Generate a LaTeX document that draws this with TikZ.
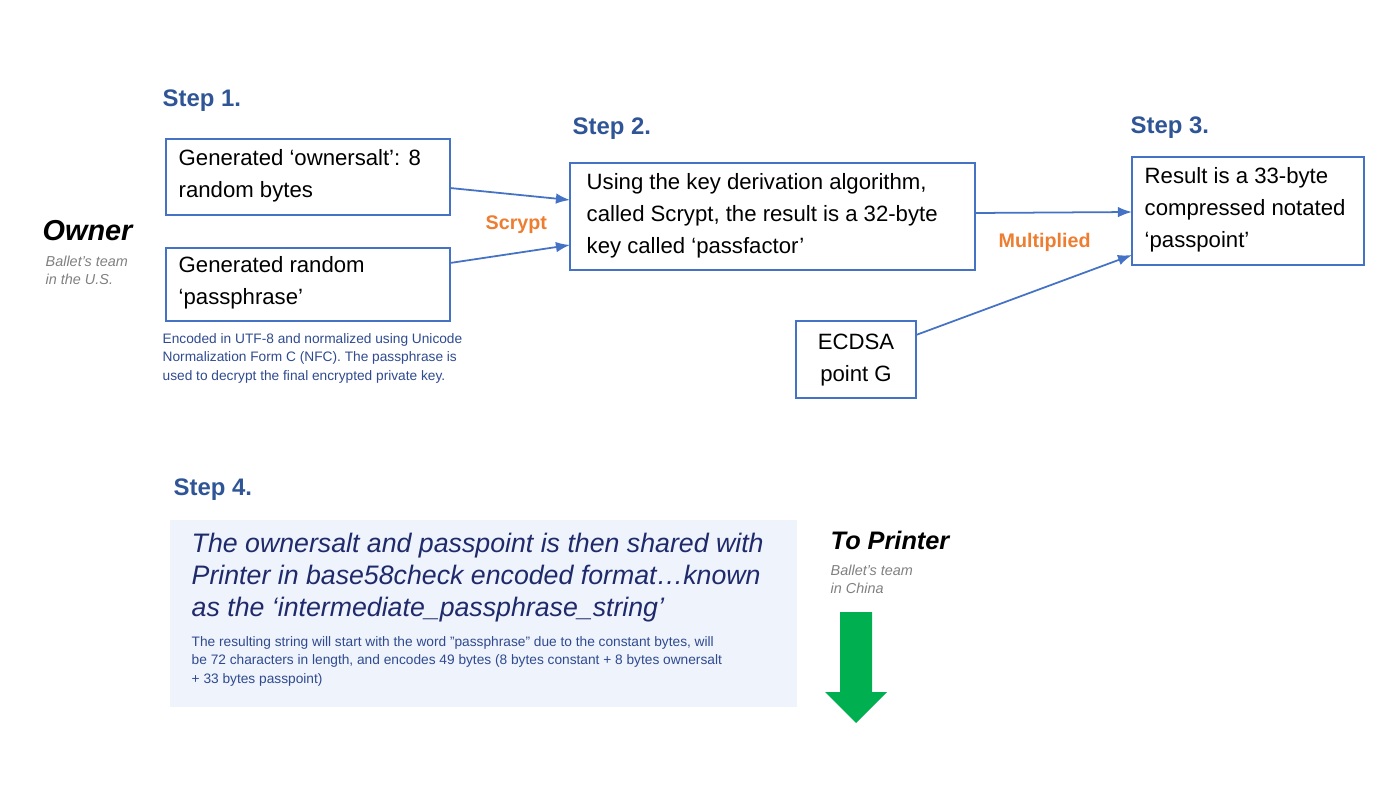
\documentclass[tikz,border=0pt]{standalone}
\usepackage{fontspec}
\setmainfont{Liberation Sans}
\usetikzlibrary{arrows.meta}
\definecolor{stepblue}{HTML}{2F5597}
\definecolor{boxblue}{HTML}{4472C4}
\definecolor{orng}{HTML}{ED7D31}
\definecolor{navy}{HTML}{1F2A6B}
\definecolor{smallblue}{HTML}{2F4A8F}
\definecolor{grn}{HTML}{00B050}
\definecolor{panel}{HTML}{EEF3FC}
\begin{document}
\begin{tikzpicture}[x=0.01cm,y=-0.01cm,
  steplbl/.style={anchor=west,inner sep=0,text=stepblue,font=\fontsize{6.8}{8}\selectfont\bfseries},
  box/.style={draw=boxblue,line width=0.5pt,inner sep=0},
  btxt/.style={anchor=north west,inner sep=0,align=left,font=\fontsize{6.3}{9.1}\selectfont},
  lbl/.style={anchor=west,inner sep=0,text=orng,font=\fontsize{5.6}{7}\selectfont\bfseries},
  who/.style={anchor=west,inner sep=0,font=\fontsize{8.2}{9}\selectfont\bfseries\itshape},
  team/.style={anchor=north west,inner sep=0,align=left,text=gray,font=\fontsize{4.1}{5.3}\selectfont\itshape},
  small/.style={anchor=north west,inner sep=0,align=left,text=smallblue,font=\fontsize{3.9}{5.2}\selectfont},
  arr/.style={-{Latex[length=4pt,width=3pt]},draw=boxblue,line width=0.5pt}]
\useasboundingbox (0,0) rectangle (1400,788);
\node[steplbl] (s1) at (162,101) {Step 1.};
\node[steplbl] (s2) at (572,129) {Step 2.};
\node[steplbl] (s3) at (1130,128) {Step 3.};
\node[steplbl] (s4) at (173,490) {Step 4.};
\draw[box] (166,139) rectangle (450,215);
\coordinate (b1) at (450,188);
\node[btxt] (t1) at (178,149) {Generated ‘ownersalt’: 8\\random bytes};
\draw[box] (166,248) rectangle (450,321);
\coordinate (b2) at (450,263);
\node[btxt] (t2) at (178,256) {Generated random\\‘passphrase’};
\node[who] (own) at (42,231) {Owner};
\node[team] (ot) at (45,255) {Ballet’s team\\in the U.S.};
\node[small] (enc) at (162,333) {Encoded in UTF-8 and normalized using Unicode\\Normalization Form C (NFC). The passphrase is\\used to decrypt the final encrypted private key.};
\draw[box] (570,163) rectangle (975,270);
\node[btxt] (t3) at (586,173) {Using the key derivation algorithm,\\called Scrypt, the result is a 32-byte\\key called ‘passfactor’};
\coordinate (b3a) at (570,200);
\coordinate (b3b) at (570,245);
\coordinate (b3r) at (975,213);
\node[lbl] (scr) at (485,225) {Scrypt};
\draw[arr] (b1) -- (b3a);
\draw[arr] (b2) -- (b3b);
\draw[box] (1132,157) rectangle (1364,265);
\node[btxt] (t4) at (1144,167) {Result is a 33-byte\\compressed notated\\‘passpoint’};
\coordinate (b4a) at (1132,212);
\coordinate (b4b) at (1132,255);
\node[lbl] (mul) at (998,242) {Multiplied};
\draw[arr] (b3r) -- (b4a);
\draw[box] (796,321) rectangle (916,398);
\node[btxt,align=center,anchor=center] (t5) at (856,360) {ECDSA\\point G};
\coordinate (b5) at (916,335);
\draw[arr] (b5) -- (b4b);
\fill[panel] (170,520) rectangle (797,707);
\node[btxt,text=navy,font=\fontsize{7.6}{9.1}\selectfont\itshape] (big) at (191,532) {The ownersalt and passpoint is then shared with\\Printer in base58check encoded format…known\\as the ‘intermediate\_passphrase\_string’};
\node[small] (res) at (191,636) {The resulting string will start with the word "passphrase" due to the constant bytes, will\\be 72 characters in length, and encodes 49 bytes (8 bytes constant + 8 bytes ownersalt\\+ 33 bytes passpoint)};
\node[who,font=\fontsize{7.2}{9}\selectfont\bfseries\itshape] (tp) at (830,540) {To Printer};
\node[team] (ct) at (830,564) {Ballet’s team\\in China};
\fill[grn] (840,612) -- (872,612) -- (872,692) -- (887,692) -- (856,723) -- (825,692) -- (840,692) -- cycle;
\end{tikzpicture}
\end{document}
